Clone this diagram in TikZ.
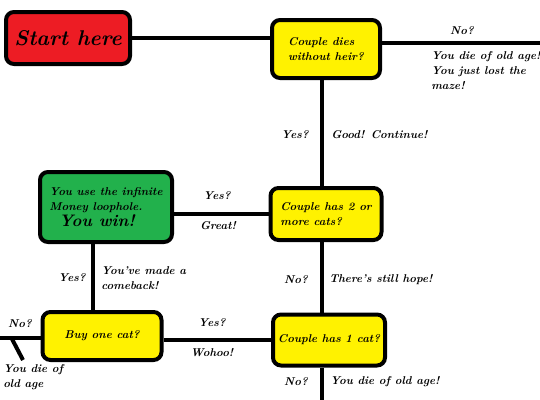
\documentclass[tikz,border=0pt]{standalone}
\definecolor{boxred}{HTML}{ED1C24}
\definecolor{boxyellow}{HTML}{FFF200}
\definecolor{boxgreen}{HTML}{22B14C}
\begin{document}
\begin{tikzpicture}[x=0.75pt,y=-0.75pt,
    box/.style={draw,line width=3pt,rounded corners=6pt,inner sep=0pt,align=left,
      font=\fontsize{8.5}{11.25}\selectfont\bfseries\itshape},
    lbl/.style={inner sep=0pt,align=left,font=\fontsize{8.5}{11.25}\selectfont\bfseries\itshape},
    wire/.style={line width=3pt}]
  \useasboundingbox (0,0) rectangle (540,400);
  % boxes
  \node[box,fill=boxred,minimum width=93pt,minimum height=39pt,
        font=\fontsize{16}{18}\selectfont\bfseries\itshape] (start) at (68,38) {Start here};
  \node[box,fill=boxyellow,minimum width=81pt,minimum height=43.5pt] (dies) at (326,49)
        {Couple dies\\without heir?};
  \node[box,fill=boxyellow,minimum width=83.25pt,minimum height=39pt] (two) at (326,214)
        {Couple has 2 or\\more cats?};
  \node[box,fill=boxgreen,minimum width=99pt,minimum height=52.5pt] (win) at (106,207)
        {You use the infinite\\Money loophole.\\[1pt]
         \hspace*{7pt}{\fontsize{12.5}{14}\selectfont You win!}};
  \node[box,fill=boxyellow,minimum width=89.25pt,minimum height=36pt] (buy) at (102,336)
        {Buy one cat?};
  \node[box,fill=boxyellow,minimum width=84pt,minimum height=38.25pt] (one) at (329,340)
        {Couple has 1 cat?};
  % free ends
  \coordinate (spine) at (322,0);
  \coordinate (lspine) at (93,0);
  \coordinate (dieright) at (540,43);
  \coordinate (leftend) at (0,338);
  \coordinate (tickA) at (12,339);
  \coordinate (tickB) at (23,360);
  \coordinate (bottom) at (322,400);
  % connectors
  \draw[wire] (start.east) -- (start.east -| dies.west);
  \draw[wire] (dies.east |- dieright) -- (dieright);
  \draw[wire] (dies.south -| spine) -- (two.north -| spine);
  \draw[wire] (two.west -| win.east) -- (two.west);
  \draw[wire] (win.south -| lspine) -- (buy.north -| lspine);
  \draw[wire] (buy.east |- one.west) -- (one.west);
  \draw[wire] (buy.west |- leftend) -- (leftend);
  \draw[wire] (tickA) -- (tickB);
  \draw[wire] (two.south -| spine) -- (one.north -| spine);
  \draw[wire] (one.south -| spine) -- (bottom);
  % labels
  \node[lbl] (noA) at (462,31) {No?};
  \node[lbl,anchor=north west] (lostA) at (431,51) {You die of old age!\\You just lost the\\maze!};
  \node[lbl] (yesA) at (295,135) {Yes?};
  \node[lbl,anchor=west] (goodA) at (331,135) {Good! Continue!};
  \node[lbl] (yesB) at (217,196) {Yes?};
  \node[lbl] (greatB) at (218,226) {Great!};
  \node[lbl] (yesC) at (72,278) {Yes?};
  \node[lbl,anchor=north west] (backC) at (101,266) {You've made a\\comeback!};
  \node[lbl] (noD) at (20,324) {No?};
  \node[lbl,anchor=north west] (oldD) at (3,364) {You die of\\old age};
  \node[lbl] (yesE) at (212,323) {Yes?};
  \node[lbl] (wohooE) at (212,353) {Wohoo!};
  \node[lbl] (noF) at (296,280) {No?};
  \node[lbl,anchor=west] (hopeF) at (329,280) {There's still hope!};
  \node[lbl] (noG) at (296,382) {No?};
  \node[lbl,anchor=west] (oldG) at (330,382) {You die of old age!};
\end{tikzpicture}
\end{document}
